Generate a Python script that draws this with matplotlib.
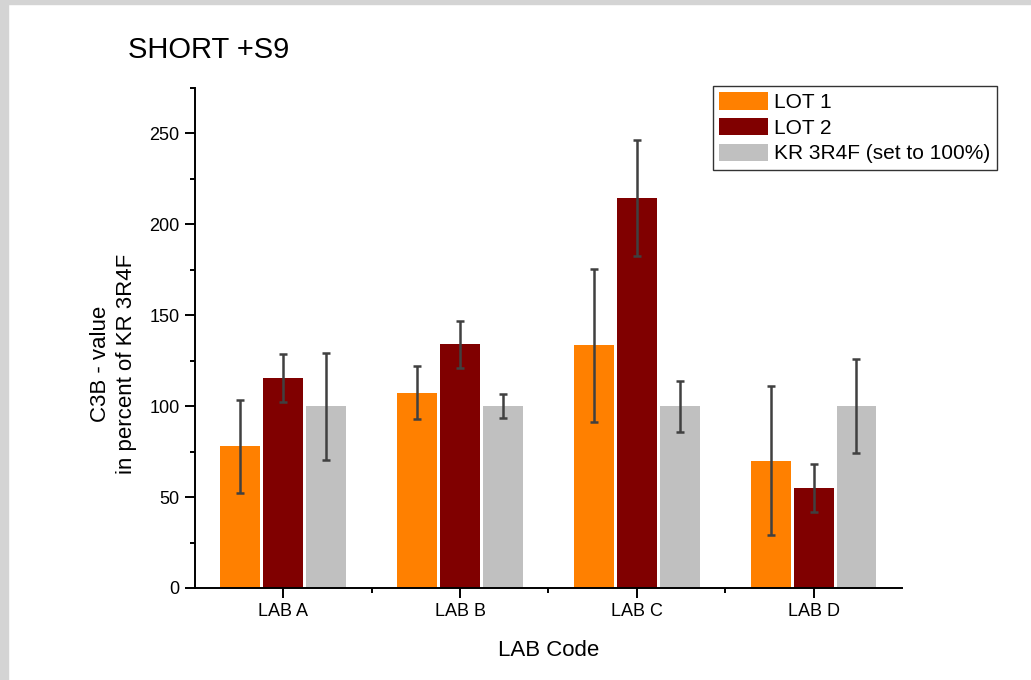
import numpy as np
import matplotlib
matplotlib.use("Agg")
import matplotlib.pyplot as plt
from matplotlib.patches import Rectangle, Patch
from matplotlib.ticker import MultipleLocator, FixedLocator

plt.rcParams['font.family'] = ['Liberation Sans', 'DejaVu Sans']

labs = ["LAB A", "LAB B", "LAB C", "LAB D"]
series = ["LOT 1", "LOT 2", "KR 3R4F (set to 100%)"]
lot1 = [78, 107.5, 133.5, 70]
lot1_err = [25.5, 14.5, 42, 41]
lot2 = [115.5, 134, 214.5, 55]
lot2_err = [13, 13, 32, 13]
ref = [100, 100, 100, 100]
ref_err = [29.5, 6.5, 14, 26]

colors = ["#FF8000", "#800000", "#C0C0C0"]

fig = plt.figure(figsize=(10.31, 6.80), dpi=100)
# grey frame at top and left edge
fig.patches.append(Rectangle((0, 0.994), 1, 0.006, transform=fig.transFigure,
                             color="#D4D4D4", zorder=0))
fig.patches.append(Rectangle((0, 0), 0.008, 1, transform=fig.transFigure,
                             color="#D4D4D4", zorder=0))

ax = fig.add_axes([0.1891, 0.1353, 0.6857, 0.7353])

x = np.arange(1, len(labs) + 1)
w = 0.226
step = 0.243
for i, (vals, errs) in enumerate([(lot1, lot1_err), (lot2, lot2_err), (ref, ref_err)]):
    ax.bar(x + (i - 1) * step, vals, width=w, color=colors[i], label=series[i], zorder=2)
    ax.errorbar(x + (i - 1) * step, vals, yerr=errs, fmt="none", ecolor="#404040",
                elinewidth=1.8, capsize=3.2, capthick=1.8, zorder=3)

ax.set_xlim(0.5, 4.5)
ax.set_ylim(0, 275)
ax.set_xticks(x)
ax.set_xticklabels(labs)
ax.xaxis.set_minor_locator(FixedLocator([1.5, 2.5, 3.5]))
ax.yaxis.set_major_locator(MultipleLocator(50))
ax.yaxis.set_minor_locator(MultipleLocator(25))
ax.set_yticks([0, 50, 100, 150, 200, 250])
ax.spines["top"].set_visible(False)
ax.spines["right"].set_visible(False)
ax.spines["left"].set_linewidth(1.4)
ax.spines["bottom"].set_linewidth(1.4)
ax.tick_params(which="major", direction="out", length=7, width=1.4, labelsize=13, pad=4)
ax.tick_params(which="minor", direction="out", length=3.6, width=1.4)

ax.set_xlabel("LAB Code", fontsize=16, labelpad=14)
ax.set_ylabel("C3B - value\nin percent of KR 3R4F", fontsize=16, labelpad=9,
              linespacing=1.3)
ax.yaxis.label.set_y(0.448)
fig.text(0.124, 0.926, "SHORT +S9", fontsize=21, ha="left", va="center")

handles = [Patch(facecolor=c, edgecolor="none") for c in colors]
leg = ax.legend(handles, series, loc="upper right", bbox_to_anchor=(1.134, 1.004),
                fontsize=15, frameon=True, fancybox=False, edgecolor="black",
                handlelength=2.35, handleheight=0.9, handletextpad=0.3,
                labelspacing=0.28, borderpad=0.3, borderaxespad=0)
leg.get_frame().set_linewidth(1.0)

fig.savefig("out.png", dpi=100)
